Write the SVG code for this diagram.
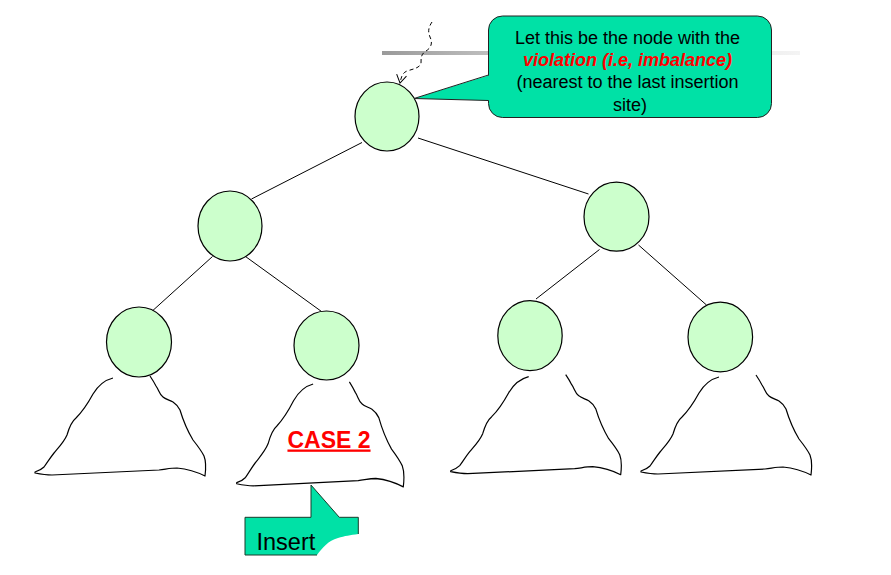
<svg xmlns="http://www.w3.org/2000/svg" width="891" height="575" viewBox="0 0 891 575">
<style>
.node{fill:#CCFFCC;stroke:#000;stroke-width:1.2}
.edge{stroke:#000;stroke-width:1;fill:none}
.tree{fill:none;stroke:#000;stroke-width:1.2;stroke-linejoin:round}
.t{font-family:"Liberation Sans",Arial,sans-serif;fill:#000}
.callout{fill:#00E1A6}
</style>
<defs>
<linearGradient id="bar" x1="382" y1="0" x2="800" y2="0" gradientUnits="userSpaceOnUse">
<stop offset="0" stop-color="#9a9a9a"/>
<stop offset="0.3" stop-color="#c4c4c4"/>
<stop offset="1" stop-color="#f4f4f4"/>
</linearGradient>
<marker id="openArrow" markerWidth="12" markerHeight="12" refX="10" refY="6" orient="auto" markerUnits="userSpaceOnUse">
<path d="M2,1 L10,6 L2,11" fill="none" stroke="#000" stroke-width="1"/>
</marker>
<path id="sub" d="M78,-94 C70,-92 64,-88 58,-78 C52,-67 47,-60 41,-54 C36,-50 34,-44 32,-37 C29,-30 24,-25 19,-19 C15,-14 12,-9 9,-5 C6,-2 3,-1 0,0 L0,1 C5,2 10,3 17,3 L124,-2 C132,-3 136,-4 142,-4 C152,-3 162,0 170,4 C171,-4 171,-11 169,-16 C166,-22 162,-27 158,-32 C152,-42 148,-52 145,-62 C143,-66 141,-68 138,-70 C134,-72 130,-73 128,-75 C124,-78 124,-82 121,-86 C119,-90 117,-93 115,-96"/>
</defs>
<rect width="891" height="575" fill="#fff"/>

<rect x="382" y="51" width="418" height="4" fill="url(#bar)"/>

<g id="connectors">
<line class="edge" x1="362" y1="142.5" x2="251.5" y2="199"/>
<line class="edge" x1="418" y1="138" x2="588.5" y2="194"/>
<line class="edge" x1="212.5" y1="256.5" x2="149.5" y2="313.5"/>
<line class="edge" x1="245.5" y1="256.5" x2="321.5" y2="311.5"/>
<line class="edge" x1="599.5" y1="249.5" x2="536" y2="299"/>
<line class="edge" x1="638.5" y1="245" x2="706.5" y2="305"/>
<path class="edge" d="M432,22 C428,28 428,32 430,37 C433,43 431,48 426,51 C421,54 421,58 421,63 C420,68 413,69 407,71 C402,73 401,78 400,83" stroke-dasharray="4,3" marker-end="url(#openArrow)"/>
</g>

<g id="subtree-ll"><use href="#sub" class="tree" transform="translate(35,472)"/></g>
<g id="subtree-lr"><use href="#sub" class="tree" transform="translate(236.7,482.7) scale(0.98,1.05)"/>
<text class="t" x="329" y="447.5" font-size="23" font-weight="bold" fill="#FF0000" text-anchor="middle" text-decoration="underline" style="fill:#FF0000">CASE 2</text></g>
<g id="subtree-rl"><use href="#sub" class="tree" transform="translate(450.7,470.7)"/></g>
<g id="subtree-rr"><use href="#sub" class="tree" transform="translate(641,471)"/></g>

<g id="node-root"><ellipse class="node" cx="387" cy="116.5" rx="32" ry="34.5"/></g>
<g id="node-l"><ellipse class="node" cx="230" cy="226" rx="32" ry="35"/></g>
<g id="node-r"><ellipse class="node" cx="616.5" cy="216.7" rx="32.5" ry="34.5"/></g>
<g id="node-ll"><ellipse class="node" cx="139" cy="342" rx="32.5" ry="35"/></g>
<g id="node-lr"><ellipse class="node" cx="326.5" cy="345.5" rx="32.5" ry="34.5"/></g>
<g id="node-rl"><ellipse class="node" cx="530" cy="335.7" rx="32.2" ry="35"/></g>
<g id="node-rr"><ellipse class="node" cx="720.3" cy="337" rx="32.3" ry="34.8"/></g>

<g id="callout-violation">
<rect class="callout" x="488.5" y="16" width="283" height="101.5" rx="14" ry="14" stroke="#222" stroke-width="1"/>
<path class="callout" d="M490,75 L414,98.5 L490,100.5 Z"/>
<path d="M488.5,75 L414,98.5 L488.5,100.5" fill="none" stroke="#222" stroke-width="1"/>
<text class="t" font-size="18" text-anchor="middle">
<tspan x="630" y="43.5">Let this be the node with the</tspan>
<tspan x="630" y="65.5" font-weight="bold" font-style="italic" style="fill:#FF0000">violation (i.e, imbalance)</tspan>
<tspan x="630" y="88">(nearest to the last insertion</tspan>
<tspan x="630" y="110.5">site)</tspan>
</text>
</g>

<g id="callout-insert">
<path class="callout" d="M245,517.3 L311,517.3 L311,485 L339.3,517.3 L358.3,517.3 L358.3,534 C350,535 345,536 338,538 C328,541 323,547 317,555 L245,555 Z"/>
<path d="M317,555 L245,555 L245,517.3 L311,517.3 L311,485 L339.3,517.3 L358.3,517.3 L358.3,534" fill="none" stroke="#1a3a2a" stroke-width="1"/>
<text class="t" x="256.5" y="550" font-size="23.5">Insert</text>
</g>
</svg>
